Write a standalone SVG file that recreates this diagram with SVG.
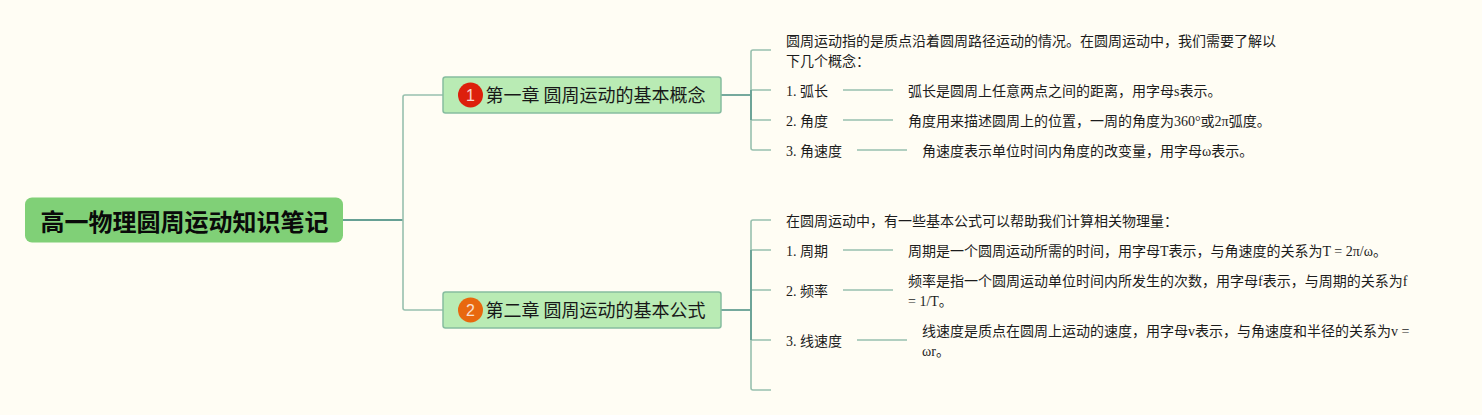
<svg xmlns="http://www.w3.org/2000/svg" width="1482" height="415" viewBox="0 0 1482 415">
<style>
.bg{fill:#fffdf4}
.conn path{fill:none;stroke:#98c0ae;stroke-width:1.6}
.conn path.main{stroke:#66a094;stroke-width:1.8}
.root{fill:#80d077}
.ch{fill:#b9ebb4;stroke:#86bd9f;stroke-width:1.5}
text{font-family:"Liberation Serif","Noto Sans CJK SC",serif;font-size:14px;fill:#1c1c1c}
.rt{font-family:"Noto Sans CJK SC",sans-serif;font-size:24px;font-weight:700;fill:#0a0a0a}
.ct{font-family:"Noto Sans CJK SC",sans-serif;font-size:18px;fill:#181818}
.num{font-family:"Liberation Sans",sans-serif;font-size:16px;fill:#fff;text-anchor:middle;opacity:.8}
</style>
<rect class="bg" width="1482" height="415"/>
<g id="connectors" class="conn">
<path class="main" d="M343 220H403"/>
<path d="M443 95H405Q403 95 403 97V308Q403 310 405 310H443"/>
<path class="main" d="M721 95H751"/>
<path d="M771 50H753Q751 50 751 52V148Q751 150 753 150H771M751 90H771M751 120H771"/>
<path class="main" d="M751 90V120"/>
<path class="main" d="M721 310H751"/>
<path d="M771 220H753Q751 220 751 222V388Q751 390 753 390H771M751 250H771M751 290H771M751 340H771"/>
<path class="main" d="M751 250V340"/>
<path d="M843 90H893M843 120H893M857 150H907M843 250H893M843 290H893M857 340H907"/>
</g>
<g id="root"><rect class="root" x="25" y="197.500" width="318" height="45" rx="7"/><text class="rt" x="40.500" y="231">高一物理圆周运动知识笔记</text></g>
<g id="ch1"><rect class="ch" x="443" y="77" width="278" height="36" rx="2.500"/><circle cx="470.500" cy="95" r="12.500" fill="#dd1f0c"/><text class="num" x="470.500" y="100.500">1</text><text class="ct" x="485.500" y="102">第一章 圆周运动的基本概念</text></g>
<g id="ch2"><rect class="ch" x="443" y="292" width="278" height="36" rx="2.500"/><circle cx="470.500" cy="310" r="12.500" fill="#e8680f"/><text class="num" x="470.500" y="315.500">2</text><text class="ct" x="485.500" y="317">第二章 圆周运动的基本公式</text></g>
<g id="n1-intro"><text x="786" y="46">圆周运动指的是质点沿着圆周路径运动的情况。在圆周运动中，我们需要了解以</text><text x="786" y="66">下几个概念：</text></g>
<g id="n1-1"><text x="786" y="96">1. 弧长</text></g>
<g id="n1-1d"><text x="908" y="96">弧长是圆周上任意两点之间的距离，用字母s表示。</text></g>
<g id="n1-2"><text x="786" y="126">2. 角度</text></g>
<g id="n1-2d"><text x="908" y="126">角度用来描述圆周上的位置，一周的角度为360°或2π弧度。</text></g>
<g id="n1-3"><text x="786" y="156">3. 角速度</text></g>
<g id="n1-3d"><text x="922" y="156">角速度表示单位时间内角度的改变量，用字母ω表示。</text></g>
<g id="n2-intro"><text x="786" y="226">在圆周运动中，有一些基本公式可以帮助我们计算相关物理量：</text></g>
<g id="n2-1"><text x="786" y="256">1. 周期</text></g>
<g id="n2-1d"><text x="908" y="256">周期是一个圆周运动所需的时间，用字母T表示，与角速度的关系为T = 2π/ω。</text></g>
<g id="n2-2"><text x="786" y="296">2. 频率</text></g>
<g id="n2-2d"><text x="908" y="286">频率是指一个圆周运动单位时间内所发生的次数，用字母f表示，与周期的关系为f</text><text x="908" y="306">= 1/T。</text></g>
<g id="n2-3"><text x="786" y="346">3. 线速度</text></g>
<g id="n2-3d"><text x="922" y="336">线速度是质点在圆周上运动的速度，用字母v表示，与角速度和半径的关系为v =</text><text x="922" y="356">ωr。</text></g>
</svg>
